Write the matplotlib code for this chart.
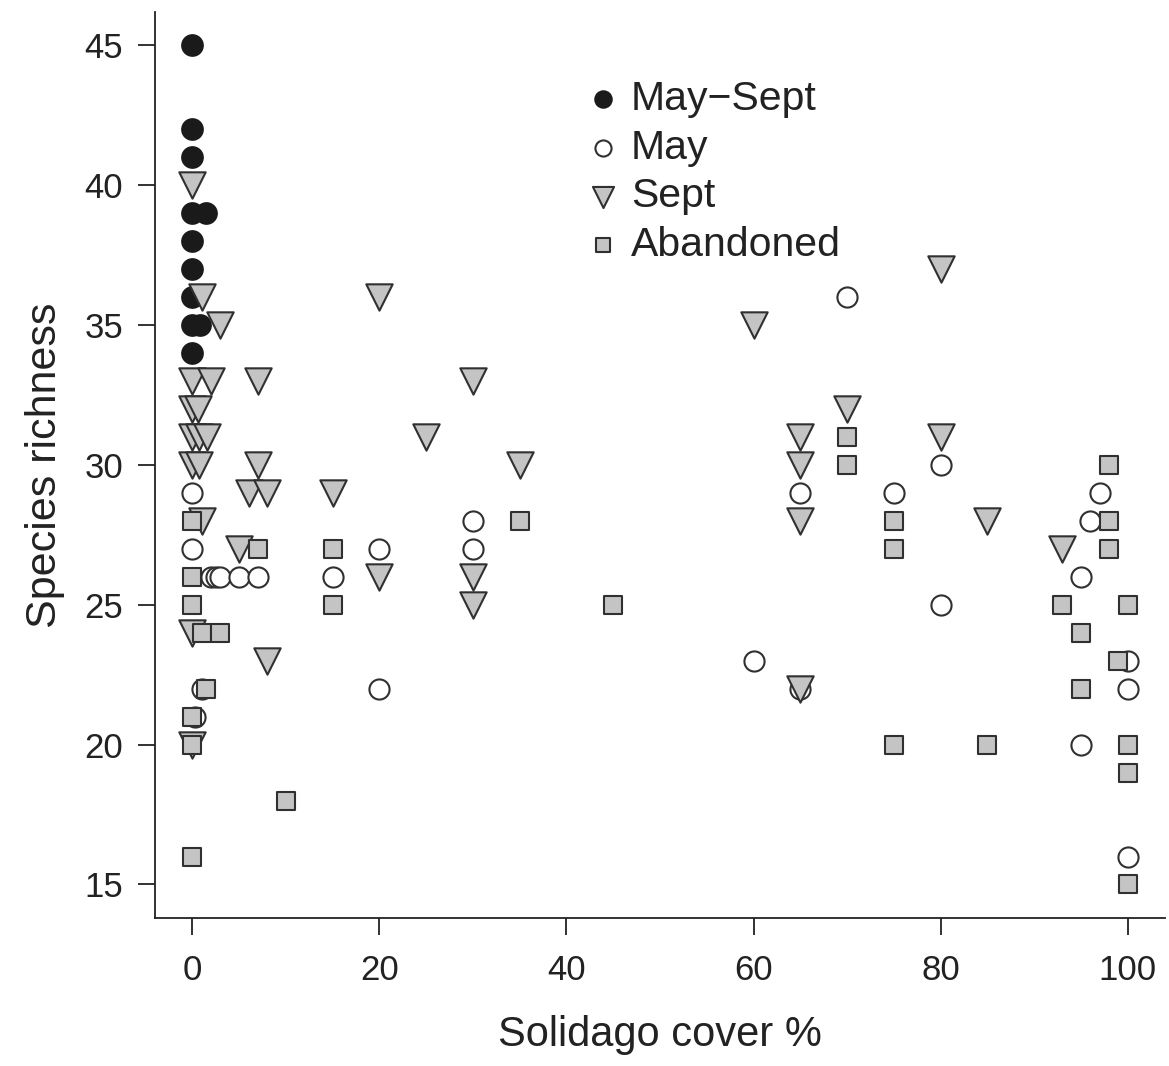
import matplotlib.pyplot as plt

plt.rcParams['font.family'] = ['Liberation Sans', 'DejaVu Sans']

# May-Sept (filled black circles)
ms_x = [0, 0, 0, 0, 1.5, 0, 0, 0, 0, 0.8, 0]
ms_y = [45, 42, 41, 39, 39, 38, 37, 36, 35, 35, 34]

# May (open circles)
may_x = [0, 0, 2, 2.5, 3, 5, 7, 1, 0.3, 15, 20, 20, 30, 30,
         60, 65, 65, 70, 75, 80, 80, 95, 95, 96, 97, 100, 100, 100]
may_y = [29, 27, 26, 26, 26, 26, 26, 22, 21, 26, 27, 22, 28, 27,
         23, 29, 22, 36, 29, 30, 25, 26, 20, 28, 29, 23, 22, 16]

# Sept (grey down triangles)
sep_x = [0, 1, 3, 0, 2, 7, 0, 0.6, 0, 0.7, 1.6, 0, 0.7, 7, 6, 8, 15, 1, 5, 0, 8, 0,
         20, 30, 25, 35, 20, 30, 30, 60, 65, 65, 65, 65, 70, 80, 80, 85, 93]
sep_y = [40, 36, 35, 33, 33, 33, 32, 32, 31, 31, 31, 30, 30, 30, 29, 29, 29, 28, 27, 24, 23, 20,
         36, 33, 31, 30, 26, 26, 25, 35, 31, 30, 28, 22, 32, 37, 31, 28, 27]

# Abandoned (grey squares)
ab_x = [0, 7, 15, 0, 0, 15, 1, 3, 1.5, 0, 0, 10, 0, 35, 45, 70, 70, 75, 75, 75,
        85, 93, 95, 95, 98, 98, 98, 99, 100, 100, 100, 100]
ab_y = [28, 27, 27, 26, 25, 25, 24, 24, 22, 21, 20, 18, 16, 28, 25, 31, 30, 28, 27, 20,
        20, 25, 24, 22, 30, 28, 27, 23, 25, 20, 19, 15]

grey = '#c4c4c4'
edge = '#303030'

fig = plt.figure(figsize=(11.69, 10.66), dpi=100)
ax = fig.add_axes([0.1326, 0.1388, 0.864, 0.85])

ax.scatter(ms_x, ms_y, s=230, marker='o', c='#1a1a1a', edgecolors='#1a1a1a',
           linewidths=1.2, label='May\u2212Sept', zorder=3)
ax.scatter(may_x, may_y, s=210, marker='o', c='white', edgecolors=edge,
           linewidths=1.5, label='May', zorder=3)
ax.scatter(sep_x, sep_y, s=360, marker='v', c=grey, edgecolors=edge,
           linewidths=1.5, label='Sept', zorder=3)
ax.scatter(ab_x, ab_y, s=160, marker='s', c=grey, edgecolors=edge,
           linewidths=1.5, label='Abandoned', zorder=3)

ax.set_xlim(-4, 104)
ax.set_ylim(13.8, 46.2)
ax.set_xticks([0, 20, 40, 60, 80, 100])
ax.set_yticks([15, 20, 25, 30, 35, 40, 45])
for s in ['top', 'right']:
    ax.spines[s].set_visible(False)
for s in ['left', 'bottom']:
    ax.spines[s].set_linewidth(1.3)
    ax.spines[s].set_color('#222222')
ax.tick_params(axis='both', direction='out', length=12, width=1.3,
               color='#222222', labelsize=25, labelcolor='#222222')
ax.tick_params(axis='x', pad=14)
ax.tick_params(axis='y', pad=11)

ax.set_xlabel('Solidago cover %', fontsize=30, color='#222222', labelpad=20)
ax.set_ylabel('Species richness', fontsize=31, color='#222222', labelpad=14)

leg = ax.legend(loc='upper left', bbox_to_anchor=(0.481, 0.944),
                bbox_transform=fig.transFigure, frameon=False,
                fontsize=29.5, markerscale=0.8, handletextpad=0.17,
                labelspacing=0.26, borderpad=0, handlelength=1.0)
for t in leg.get_texts():
    t.set_color('#222222')

fig.savefig('out.png', dpi=100)
